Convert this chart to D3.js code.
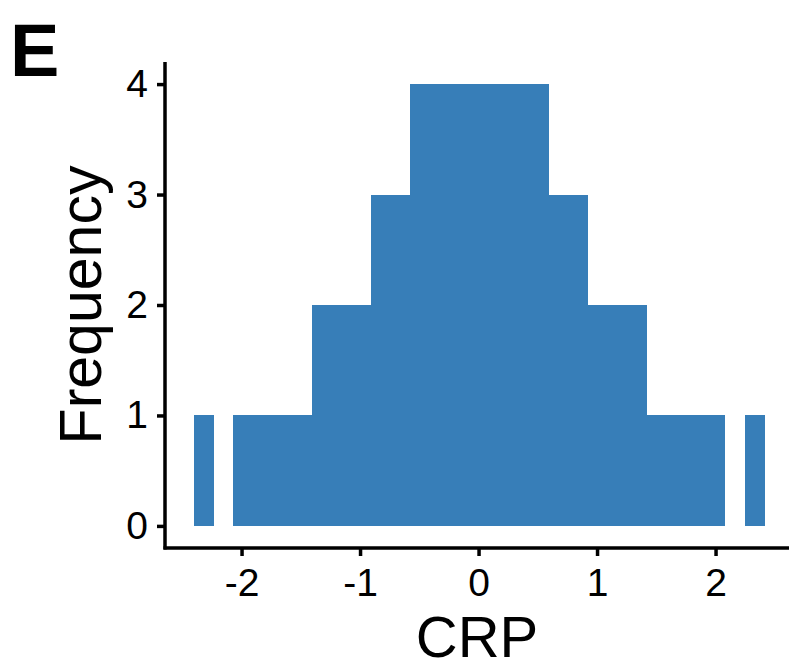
<!DOCTYPE html>
<html>
<head>
<meta charset="utf-8">
<script src="https://cdn.jsdelivr.net/npm/d3@7"></script>
<style>
  html, body { margin: 0; padding: 0; background: #fff; }
  svg { display: block; }
  text { font-family: "Liberation Sans", Arial, Helvetica, sans-serif; }
</style>
</head>
<body>
<svg id="chart" width="789" height="668"></svg>
<script>
// Histogram bins of CRP (bin start, bin end) and their counts
const binStart = [-2.405, -2.076, -1.409, -0.911, -0.582, 0.591, 0.920, 1.418, 2.245];
const binEnd   = [-2.236, -1.409, -0.911, -0.582, 0.591, 0.920, 1.418, 2.084, 2.414];
const counts   = [1, 1, 2, 3, 4, 3, 2, 1, 1];
const xTicks = [-2, -1, 0, 1, 2];
const yTicks = [0, 1, 2, 3, 4];

const svg = d3.select("#chart");
const W = 789, H = 668;
const margin = { left: 165, right: 0, top: 62, bottom: 120 };

const xMin = d3.min(binStart), xMax = d3.max(binEnd);
const xPad = (xMax - xMin) * 0.05;
const x = d3.scaleLinear()
  .domain([xMin - xPad, xMax + xPad])
  .range([margin.left, margin.left + (xMax + xPad - (xMin - xPad)) * 118.5]);

const yMax = d3.max(counts);
const y = d3.scaleLinear()
  .domain([-yMax * 0.05, yMax * 1.05])
  .range([H - margin.bottom, margin.top]);

const bins = binStart.map((s, i) => ({ x0: s, x1: binEnd[i], n: counts[i] }));

svg.append("g")
  .attr("shape-rendering", "crispEdges")
  .selectAll("rect")
  .data(bins)
  .join("rect")
  .attr("x", d => x(d.x0))
  .attr("width", d => x(d.x1) - x(d.x0))
  .attr("y", d => y(d.n))
  .attr("height", d => y(0) - y(d.n))
  .attr("fill", "#377eb8");

const xAxis = svg.append("g")
  .attr("transform", `translate(0,${H - margin.bottom})`)
  .call(d3.axisBottom(x).tickValues(xTicks).tickSize(8).tickPadding(12).tickFormat(d3.format("d")));
xAxis.select(".domain").attr("d", `M${margin.left - 1.5},0H${W}`).attr("stroke-width", 3.5);

const yAxis = svg.append("g")
  .attr("transform", `translate(${margin.left},0)`)
  .call(d3.axisLeft(y).tickValues(yTicks).tickSize(8).tickPadding(9).tickFormat(d3.format("d")));
yAxis.select(".domain").attr("d", `M0,${margin.top}V${H - margin.bottom + 1.5}`).attr("stroke-width", 3.5);

svg.selectAll(".tick line").attr("stroke-width", 3.5).attr("stroke", "#000");
svg.selectAll(".tick text")
  .attr("font-size", 39)
  .attr("font-family", "Liberation Sans, Arial, sans-serif")
  .attr("fill", "#000");
xAxis.selectAll(".tick text").text(d => d < 0 ? "-" + Math.abs(d) : d);

svg.append("text")
  .attr("x", (x.range()[0] + x.range()[1]) / 2 - 2)
  .attr("y", 657)
  .attr("text-anchor", "middle")
  .attr("font-size", 58)
  .text("CRP");

svg.append("text")
  .attr("transform", `translate(101,${(margin.top + H - margin.bottom) / 2}) rotate(-90)`)
  .attr("text-anchor", "middle")
  .attr("font-size", 59)
  .text("Frequency");

svg.append("text")
  .attr("x", 10)
  .attr("y", 76)
  .attr("font-size", 74)
  .attr("font-weight", "bold")
  .text("E");
</script>
</body>
</html>
